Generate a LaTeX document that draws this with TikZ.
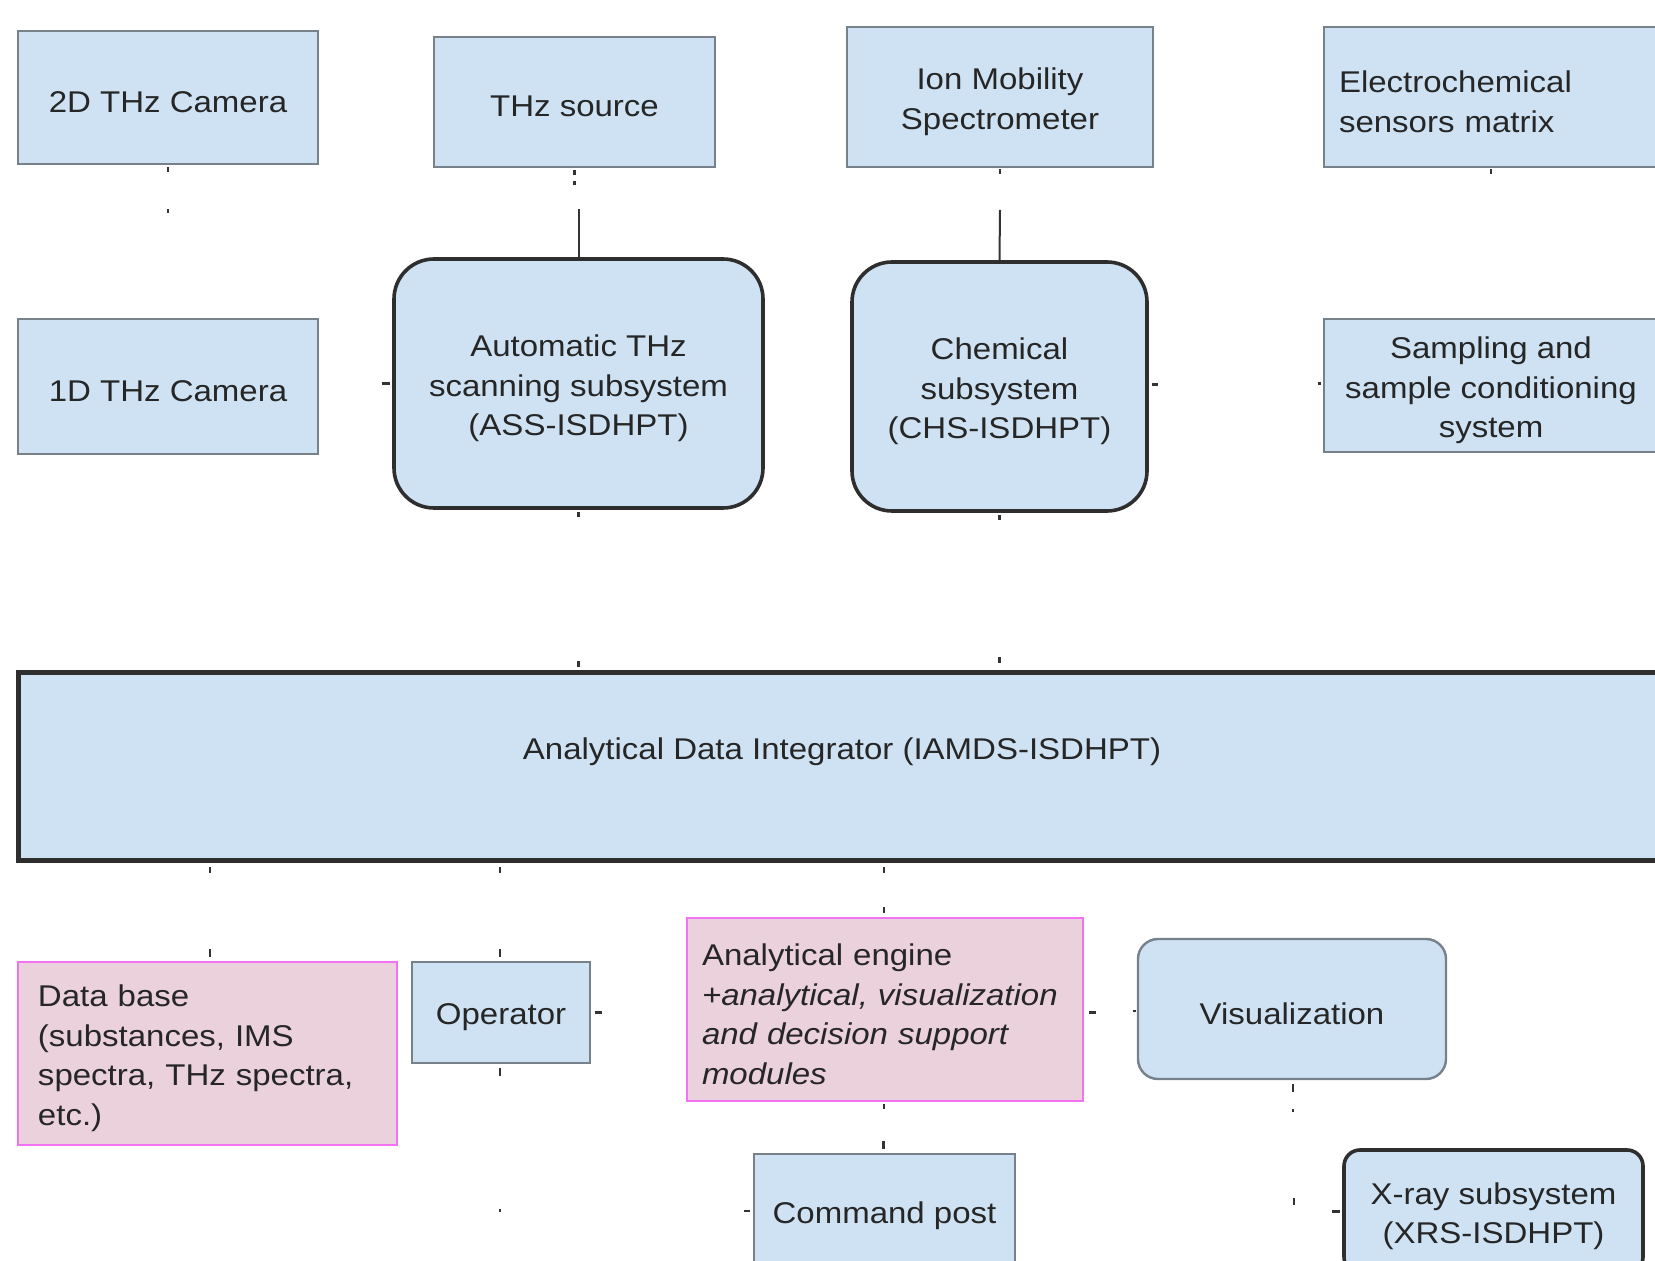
\documentclass[tikz,border=0pt]{standalone}
\usepackage{fontspec}
\setmainfont{Liberation Sans}[FakeStretch=1.1]
\usetikzlibrary{calc}
\definecolor{boxblue}{HTML}{CFE2F3}
\definecolor{boxpink}{HTML}{EAD1DC}
\definecolor{edgegray}{HTML}{76818C}
\definecolor{edgedark}{HTML}{2E2E2E}
\definecolor{edgepink}{HTML}{F272F2}
\definecolor{inkgray}{HTML}{262626}
\definecolor{wiregray}{HTML}{333333}

\begin{document}
\begin{tikzpicture}[x=0.5pt,y=-0.5pt,
  every node/.style={font=\fontsize{15}{19.75}\selectfont, text=inkgray},
  sz/.style 2 args={minimum width=#1pt, minimum height=#2pt},
  plainbox/.style={draw=edgegray, line width=1.2pt, fill=boxblue, inner sep=0pt},
  corebox/.style={draw=edgedark, line width=1.8pt, fill=boxblue, rounded corners=20pt, inner sep=0pt},
  softbox/.style={draw=edgegray, line width=1.2pt, fill=boxblue, rounded corners=10pt, inner sep=0pt},
  pinkbox/.style={draw=edgepink, line width=1.2pt, fill=boxpink, inner sep=0pt},
  boxtext/.style={yshift=-2.4pt, align=center, inner sep=0pt},
  wire/.style={draw=wiregray, line width=1pt},
  stubmark/.style={draw=wiregray, line width=1.2pt},
]
\useasboundingbox (0,0) rectangle (1655,1261);
\fill[white] (0,0) rectangle (1655,1261);
\clip (0,0) rectangle (1655,1261);

% top row: sources and sensors
\node[plainbox, sz={150}{66.5}, label={[boxtext, name=cam2-t]center:{2D THz Camera}}] (cam2) at (168,97.5) {};
\node[plainbox, sz={140.5}{65}, label={[boxtext, name=thz-t]center:{THz source}}] (thz) at (574.5,102) {};
\node[plainbox, sz={153}{70}, label={[boxtext, name=ims-t]center:{Ion Mobility\\Spectrometer}}] (ims) at (1000,97) {};
\node[plainbox, sz={167}{70}, label={[boxtext, name=echem-t, align=left, text width=152pt]center:{Electrochemical\\sensors matrix}}] (echem) at (1491,97) {};

% second row: subsystems
\node[plainbox, sz={150}{67.5}, label={[boxtext, name=cam1-t]center:{1D THz Camera}}] (cam1) at (168,386.5) {};
\node[corebox, sz={184.5}{124.5}, label={[boxtext, name=ass-t]center:{Automatic THz\\scanning subsystem\\(ASS-ISDHPT)}}] (ass) at (578.5,383.5) {};
\node[corebox, sz={147.5}{124.5}, label={[boxtext, name=chs-t]center:{Chemical\\subsystem\\(CHS-ISDHPT)}}] (chs) at (999.5,386.5) {};
\node[plainbox, sz={167}{66.5}, label={[boxtext, name=samp-t]center:{Sampling and\\sample conditioning\\system}}] (samp) at (1491,385.5) {};

% integrator bar
\node[draw=edgedark, line width=2.5pt, fill=boxblue, sz={824}{93.5}] (integ) at (842,766.5) {};
\node (integlabel) at (842,752) {Analytical Data Integrator (IAMDS-ISDHPT)};

% lower row: data handling and outputs
\node[pinkbox, sz={189.5}{91.5}, label={[boxtext, name=db-t, align=left, text width=169.5pt]center:{Data base\\(substances, IMS\\spectra, THz spectra,\\etc.)}}] (db) at (207.5,1053.5) {};
\node[plainbox, sz={89}{50.5}, label={[boxtext, name=op-t]center:{Operator}}] (op) at (501,1012.5) {};
\node[pinkbox, sz={198}{91.5}, label={[boxtext, name=eng-t, align=left, text width=183pt]center:{Analytical engine\\\textit{+analytical, visualization}\\\textit{and decision support}\\\textit{modules}}}] (eng) at (885,1009.5) {};
\node[softbox, sz={154}{70}, label={[boxtext, name=vis-t]center:{Visualization}}] (vis) at (1292,1009) {};
\node[plainbox, sz={130.5}{57}, label={[boxtext, name=cmd-t]center:{Command post}}] (cmd) at (884.5,1211) {};
\node[corebox, rounded corners=8pt, sz={149.5}{61.5}, label={[boxtext, name=xray-t]center:{X-ray subsystem\\(XRS-ISDHPT)}}] (xray) at (1493.5,1211.5) {};

% visible feed lines
\coordinate (thzlead) at (578.5,209);
\coordinate (imslead) at (1000,210);
\draw[wire] (thzlead) -- (ass.north);
\draw[wire] (imslead) -- (chs.north);

% small connector end marks
\draw[stubmark] ($(cam2.south)+(0,2)$) -- ++(0,5);
\draw[stubmark] ($(cam2.south)+(0,44)$) -- ++(0,4);
\draw[stubmark] ($(thz.south)+(0,2)$) -- ++(0,5);
\draw[stubmark] ($(thz.south)+(0,13)$) -- ++(0,4);
\draw[stubmark] ($(ims.south)+(0,1)$) -- ++(0,5);
\draw[stubmark] ($(echem.south)+(0,1)$) -- ++(0,5);
\draw[stubmark] ($(ass.west)+(-10,0)$) -- ++(8,0);
\draw[stubmark] ($(ass.south)+(0,2)$) -- ++(0,5);
\draw[stubmark] ($(ass.south)+(0,151)$) -- ++(0,6);
\draw[stubmark] ($(chs.south)+(0,2)$) -- ++(0,5);
\draw[stubmark] ($(chs.south)+(0,144)$) -- ++(0,6);
\draw[stubmark] ($(chs.east)+(3,-2)$) -- ++(6,0);
\draw[stubmark] ($(samp.west)+(-5,-2)$) -- ++(3,0);
\draw[stubmark] ($(integ.south)+(-632,4)$) -- ++(0,6);
\draw[stubmark] ($(integ.south)+(-342,4)$) -- ++(0,6);
\draw[stubmark] ($(integ.south)+(42,4)$) -- ++(0,6);
\draw[stubmark] ($(db.north)+(2.5,-12)$) -- ++(0,8);
\draw[stubmark] ($(op.north)+(-1,-12)$) -- ++(0,8);
\draw[stubmark] ($(eng.north)+(-1,-10)$) -- ++(0,6);
\draw[stubmark] ($(op.east)+(4,0)$) -- ++(7,0);
\draw[stubmark] ($(op.south)+(-1,4)$) -- ++(0,8);
\draw[stubmark] ($(op.south)+(-1,145)$) -- ++(0,3);
\draw[stubmark] ($(eng.east)+(5,3)$) -- ++(7,0);
\draw[stubmark] ($(vis.west)+(-4,2)$) -- ++(3,0);
\draw[stubmark] ($(eng.south)+(-1,2)$) -- ++(0,5);
\draw[stubmark] ($(cmd.north)+(-1,-12)$) -- ++(0,8);
\draw[stubmark] ($(cmd.west)+(-9,0)$) -- ++(6,0);
\draw[stubmark] ($(vis.south)+(1,4)$) -- ++(0,8);
\draw[stubmark] ($(vis.south)+(1,29)$) -- ++(0,3);
\draw[stubmark] ($(xray.west)+(-48,-14)$) -- ++(0,7);
\draw[stubmark] ($(xray.west)+(-10,0)$) -- ++(8,0);
\end{tikzpicture}
\end{document}
